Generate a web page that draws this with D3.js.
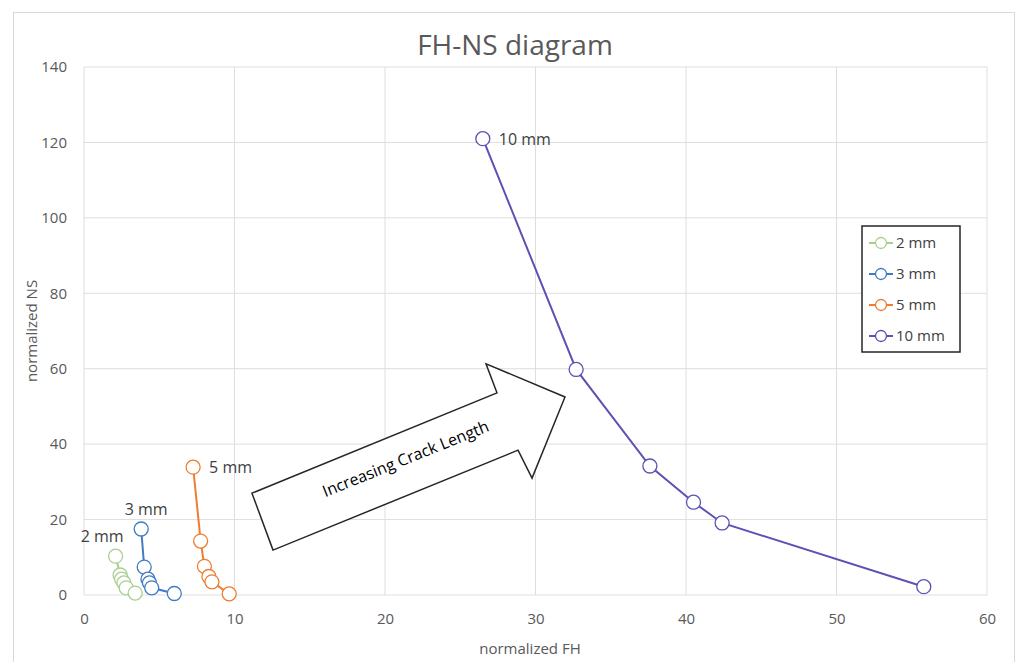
<!DOCTYPE html>
<html>
<head>
<meta charset="utf-8">
<script src="https://cdn.jsdelivr.net/npm/d3@7"></script>
<style>
  body { margin: 0; background: #fff; }
  text { font-family: "Open Sans", "Liberation Sans", sans-serif; }
</style>
</head>
<body>
<div id="chart"></div>
<script>
const width = 1019, height = 662;

// data
const seriesNames = ["2 mm", "3 mm", "5 mm", "10 mm"];
const fh2 = [2.1, 2.4, 2.5, 2.65, 2.8, 3.4];
const ns2 = [10.3, 5.3, 4.2, 3.2, 1.9, 0.5];
const fh3 = [3.8, 4.0, 4.25, 4.35, 4.5, 6.0];
const ns3 = [17.5, 7.4, 4.2, 3.2, 1.9, 0.4];
const fh5 = [7.25, 7.75, 8.0, 8.3, 8.5, 9.65];
const ns5 = [33.9, 14.3, 7.6, 4.9, 3.5, 0.3];
const fh10 = [26.5, 32.7, 37.6, 40.5, 42.4, 55.8];
const ns10 = [121, 59.8, 34.2, 24.6, 19.1, 2.2];
const xTicks = [0, 10, 20, 30, 40, 50, 60];
const yTicks = [0, 20, 40, 60, 80, 100, 120, 140];

// annotation arrow, in data units
const arrowFH = [12.56, 11.16, 27.44, 26.71, 31.96, 29.77, 28.84];
const arrowNS = [11.9, 27.0, 53.6, 61.3, 52.5, 31.0, 38.4];
const arrowText = "Increasing Crack Length";

const colors = ["#a9cf8f", "#3f7cc4", "#ed7d31", "#5b52b3"];
// label offset for the first point of each series [dx, dy, anchor]
const labelPos = [[8, -14, "end"], [5, -14, "middle"], [16, 6, "start"], [16, 6, "start"]];

const series = [
  { name: seriesNames[0], xs: fh2, ys: ns2 },
  { name: seriesNames[1], xs: fh3, ys: ns3 },
  { name: seriesNames[2], xs: fh5, ys: ns5 },
  { name: seriesNames[3], xs: fh10, ys: ns10 }
].map((s, i) => ({ ...s, color: colors[i], pts: s.xs.map((x, j) => [x, s.ys[j]]) }));

const margin = { left: 84, right: 32, top: 67, bottom: 67 };

const svg = d3.select("#chart")
    .append("svg")
    .attr("width", width)
    .attr("height", height);

// outer chart border
svg.append("rect")
    .attr("x", 13.5).attr("y", 12.5)
    .attr("width", 1001).attr("height", 662)
    .attr("fill", "#fff")
    .attr("stroke", "#d9d9d9");

const x = d3.scaleLinear().domain([0, 60]).range([margin.left, width - margin.right]);
const y = d3.scaleLinear().domain([0, 140]).range([height - margin.bottom, margin.top]);

// gridlines
svg.append("g")
    .selectAll("line.h")
    .data(yTicks)
    .enter().append("line")
    .attr("x1", x(0)).attr("x2", x(60))
    .attr("y1", d => y(d)).attr("y2", d => y(d))
    .attr("stroke", "#dedede").attr("stroke-width", 1);
svg.append("g")
    .selectAll("line.v")
    .data(xTicks)
    .enter().append("line")
    .attr("y1", y(0)).attr("y2", y(140))
    .attr("x1", d => x(d)).attr("x2", d => x(d))
    .attr("stroke", "#dedede").attr("stroke-width", 1);

// axes (labels only, Excel style)
const xAxis = svg.append("g")
    .attr("transform", `translate(0,${y(0)})`)
    .call(d3.axisBottom(x).tickValues(xTicks).tickSize(0).tickPadding(18));
const yAxis = svg.append("g")
    .attr("transform", `translate(${x(0)},0)`)
    .call(d3.axisLeft(y).tickValues(yTicks).tickSize(0).tickPadding(17));
[xAxis, yAxis].forEach(a => {
  a.select(".domain").remove();
  a.selectAll("text").attr("fill", "#595959").style("font-size", "15px")
    .style("font-family", "'Open Sans', sans-serif");
});

// titles
svg.append("text")
    .attr("x", 515).attr("y", 55)
    .attr("text-anchor", "middle")
    .attr("fill", "#595959")
    .style("font-size", "28px")
    .text("FH-NS diagram");
svg.append("text")
    .attr("x", 530).attr("y", 654)
    .attr("text-anchor", "middle")
    .attr("fill", "#595959")
    .style("font-size", "15px")
    .text("normalized FH");
svg.append("text")
    .attr("transform", `translate(37,${y(70)}) rotate(-90)`)
    .attr("text-anchor", "middle")
    .attr("fill", "#595959")
    .style("font-size", "15px")
    .text("normalized NS");

// arrow annotation
const arrowPts = arrowFH.map((d, i) => [x(d), y(arrowNS[i])]);
svg.append("polygon")
    .attr("points", arrowPts.map(p => p.join(",")).join(" "))
    .attr("fill", "#fff")
    .attr("stroke", "#262626")
    .attr("stroke-width", 1.5);
svg.append("text")
    .attr("transform", `translate(${x(21.4)},${y(35.8)}) rotate(-22)`)
    .attr("text-anchor", "middle")
    .attr("dominant-baseline", "middle")
    .attr("fill", "#000")
    .style("font-size", "16px")
    .text(arrowText);

// series
const line = d3.line().x(d => x(d[0])).y(d => y(d[1]));
const g = svg.append("g");
series.forEach((s, i) => {
  g.append("path")
      .datum(s.pts)
      .attr("fill", "none")
      .attr("stroke", s.color)
      .attr("stroke-width", 2)
      .attr("d", line);
  g.selectAll(null)
      .data(s.pts)
      .enter().append("circle")
      .attr("cx", d => x(d[0]))
      .attr("cy", d => y(d[1]))
      .attr("r", 7)
      .attr("fill", "#fff")
      .attr("stroke", s.color)
      .attr("stroke-width", 1.3);
  const lp = labelPos[i];
  g.append("text")
      .attr("x", x(s.pts[0][0]) + lp[0])
      .attr("y", y(s.pts[0][1]) + lp[1])
      .attr("text-anchor", lp[2])
      .attr("fill", "#404040")
      .style("font-size", "16px")
      .text(s.name);
});

// legend
const legend = svg.append("g").attr("transform", "translate(862,226)");
legend.append("rect")
    .attr("width", 98).attr("height", 126)
    .attr("fill", "#fff")
    .attr("stroke", "#262626").attr("stroke-width", 1.5);
series.forEach((s, i) => {
  const ly = 17 + i * 31;
  const row = legend.append("g").attr("transform", `translate(0,${ly})`);
  row.append("line").attr("x1", 7).attr("x2", 31).attr("y1", 0).attr("y2", 0)
      .attr("stroke", s.color).attr("stroke-width", 2);
  row.append("circle").attr("cx", 19).attr("cy", 0).attr("r", 5.5)
      .attr("fill", "#fff").attr("stroke", s.color).attr("stroke-width", 1.3);
  row.append("text").attr("x", 34).attr("y", 1)
      .attr("dominant-baseline", "middle")
      .attr("fill", "#404040")
      .style("font-size", "15px")
      .text(s.name);
});
</script>
</body>
</html>
